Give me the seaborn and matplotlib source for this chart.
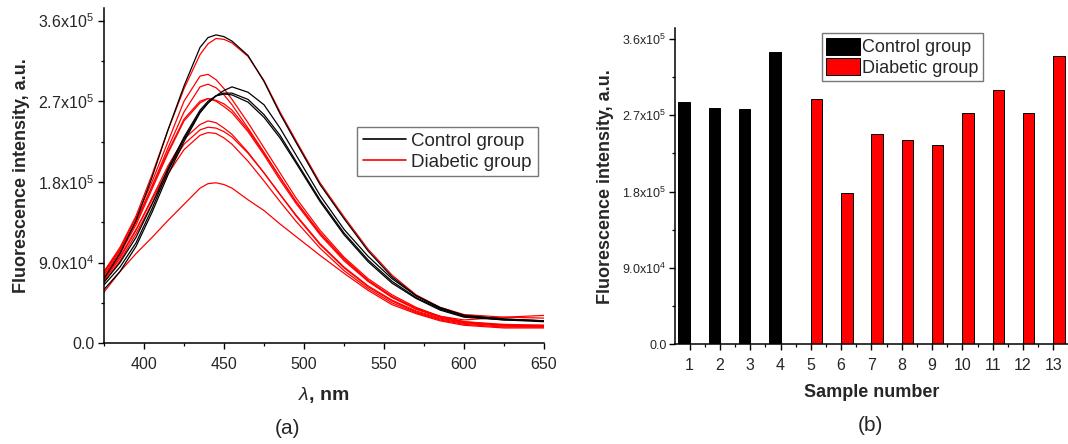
import pandas as pd
import matplotlib
matplotlib.use("Agg")
import matplotlib.pyplot as plt
from matplotlib.lines import Line2D
from matplotlib.ticker import FixedLocator, MultipleLocator
import seaborn as sns

sns.set_theme(style="ticks")
plt.rcParams['font.family'] = ['Liberation Sans', 'DejaVu Sans']
plt.rcParams['mathtext.fontset'] = 'custom'
plt.rcParams['mathtext.rm'] = 'Liberation Sans'
plt.rcParams['mathtext.it'] = 'Liberation Sans:italic'
plt.rcParams['mathtext.bf'] = 'Liberation Sans:bold'

# Data
wavelength = [375, 385, 395, 405, 415, 425, 435, 440, 445, 450, 455, 465, 475, 485,
              495, 510, 525, 540, 555, 570, 585, 600, 625, 650]

# control spectra (black)
control_1 = [65e3, 85e3, 112e3, 150e3, 192e3, 228e3, 258e3, 268e3, 276e3, 282e3, 286e3, 280e3,
             266e3, 240e3, 210e3, 165e3, 127e3, 97e3, 72e3, 53e3, 40e3, 31e3, 27e3, 25e3]
control_2 = [60e3, 80e3, 108e3, 146e3, 188e3, 225e3, 257e3, 268e3, 276e3, 279e3, 279e3, 272e3,
             255e3, 232e3, 203e3, 160e3, 123e3, 93e3, 69e3, 51e3, 38e3, 30e3, 26e3, 24e3]
control_3 = [68e3, 90e3, 118e3, 155e3, 195e3, 230e3, 260e3, 270e3, 276e3, 278e3, 277e3, 269e3,
             252e3, 229e3, 201e3, 158e3, 121e3, 91e3, 67e3, 50e3, 37e3, 29e3, 26e3, 25e3]
control_4 = [72e3, 100e3, 137e3, 185e3, 238e3, 287e3, 330e3, 341e3, 344e3, 342e3, 337e3, 321e3,
             292e3, 256e3, 224e3, 177e3, 139e3, 103e3, 74e3, 53e3, 39e3, 31e3, 27e3, 25e3]

# diabetic spectra (red)
diabetic_5 = [76e3, 102e3, 135e3, 175e3, 218e3, 258e3, 286e3, 289e3, 285e3, 277e3, 266e3, 240e3,
              213e3, 185e3, 158e3, 123e3, 94e3, 70e3, 52e3, 39e3, 30e3, 24e3, 21e3, 20e3]
diabetic_6 = [57e3, 80e3, 100e3, 118e3, 137e3, 155e3, 173e3, 178e3, 179e3, 177e3, 173e3, 160e3,
              148e3, 133e3, 119e3, 98e3, 78e3, 59e3, 43e3, 33e3, 25e3, 20e3, 17e3, 17e3]
diabetic_7 = [70e3, 95e3, 126e3, 162e3, 198e3, 228e3, 244e3, 248e3, 246e3, 240e3, 233e3, 213e3,
              190e3, 166e3, 142e3, 110e3, 84e3, 63e3, 47e3, 35e3, 27e3, 22e3, 19e3, 18e3]
diabetic_8 = [72e3, 97e3, 127e3, 160e3, 194e3, 222e3, 238e3, 241e3, 240e3, 236e3, 230e3, 212e3,
              190e3, 166e3, 143e3, 111e3, 85e3, 64e3, 48e3, 36e3, 28e3, 23e3, 20e3, 20e3]
diabetic_9 = [68e3, 92e3, 122e3, 156e3, 189e3, 216e3, 232e3, 235e3, 234e3, 229e3, 222e3, 203e3,
              181e3, 158e3, 136e3, 106e3, 81e3, 61e3, 45e3, 34e3, 26e3, 21e3, 18e3, 18e3]
diabetic_10 = [74e3, 100e3, 132e3, 172e3, 212e3, 248e3, 268e3, 273e3, 271e3, 267e3, 260e3, 238e3,
               212e3, 185e3, 158e3, 123e3, 94e3, 70e3, 52e3, 38e3, 29e3, 23e3, 20e3, 19e3]
diabetic_11 = [80e3, 105e3, 140e3, 180e3, 225e3, 270e3, 298e3, 300e3, 294e3, 284e3, 272e3, 246e3,
               218e3, 190e3, 162e3, 126e3, 96e3, 72e3, 54e3, 40e3, 30e3, 24e3, 20e3, 19e3]
diabetic_12 = [78e3, 104e3, 136e3, 175e3, 214e3, 250e3, 270e3, 273e3, 270e3, 264e3, 257e3, 236e3,
               210e3, 182e3, 156e3, 121e3, 92e3, 69e3, 51e3, 38e3, 30e3, 26e3, 29e3, 31e3]
diabetic_13 = [80e3, 107e3, 142e3, 188e3, 238e3, 284e3, 322e3, 334e3, 340e3, 339e3, 335e3, 320e3,
               293e3, 258e3, 226e3, 179e3, 141e3, 105e3, 76e3, 54e3, 40e3, 32e3, 29e3, 28e3]

control_spectra = [control_1, control_2, control_3, control_4]
diabetic_spectra = [diabetic_5, diabetic_6, diabetic_7, diabetic_8, diabetic_9,
                    diabetic_10, diabetic_11, diabetic_12, diabetic_13]

# panel (b): peak intensity per sample
sample_number = ['1', '2', '3', '4', '5', '6', '7', '8', '9', '10', '11', '12', '13']
sample_group = ['Control group'] * 4 + ['Diabetic group'] * 9
peak_intensity = [286e3, 279e3, 278e3, 345e3, 289e3, 179e3, 248e3, 241e3, 235e3,
                  273e3, 300e3, 273e3, 340e3]

y_ticks = [0, 9e4, 1.8e5, 2.7e5, 3.6e5]
y_ticklabels = ['0.0', '9.0x10$^4$', '1.8x10$^5$', '2.7x10$^5$', '3.6x10$^5$']

GROUPS = ['Control group', 'Diabetic group']
COLORS = {'Control group': 'black', 'Diabetic group': '#ff0000'}


def spectra_frame(spectra, group, start):
    rows = []
    for i, spec in enumerate(spectra):
        for wl, val in zip(wavelength, spec):
            rows.append({'wl': wl, 'I': val, 'sample': start + i, 'group': group})
    return pd.DataFrame(rows)


ctrl_df = spectra_frame(control_spectra, 'Control group', 1)
diab_df = spectra_frame(diabetic_spectra, 'Diabetic group', 5)
bar_df = pd.DataFrame({'Sample': sample_number, 'Intensity': peak_intensity, 'Group': sample_group})

fig = plt.figure(figsize=(10.68, 4.44), dpi=100)
ax1 = fig.add_axes([0.0974, 0.227, 0.412, 0.755])
ax2 = fig.add_axes([0.632, 0.2245, 0.368, 0.7125])


def style_axis(ax):
    for s in ['top', 'right']:
        ax.spines[s].set_visible(False)
    for s in ['left', 'bottom']:
        ax.spines[s].set_linewidth(1.1)
        ax.spines[s].set_color('black')
    ax.tick_params(which='major', direction='out', length=4, width=1.0, color='black')
    ax.tick_params(which='minor', direction='out', length=2.5, width=0.9, color='black')


# %% panel (a)
sns.lineplot(data=diab_df, x='wl', y='I', units='sample', estimator=None,
             color=COLORS['Diabetic group'], lw=0.9, ax=ax1)
sns.lineplot(data=ctrl_df, x='wl', y='I', units='sample', estimator=None,
             color=COLORS['Control group'], lw=0.9, ax=ax1)
ax1.set_xlim(375, 650)
ax1.set_ylim(0, 3.74e5)
ax1.xaxis.set_major_locator(FixedLocator([400, 450, 500, 550, 600, 650]))
ax1.xaxis.set_minor_locator(MultipleLocator(25))
ax1.yaxis.set_major_locator(FixedLocator(y_ticks))
ax1.set_yticklabels(y_ticklabels)
ax1.yaxis.set_minor_locator(MultipleLocator(4.5e4))
style_axis(ax1)
ax1.tick_params(axis='y', labelsize=11.5, pad=3)
ax1.tick_params(axis='x', labelsize=11.5, pad=6)
ax1.set_xlabel(r'$\lambda$, nm', fontsize=14, fontweight='bold', labelpad=9)
ax1.set_ylabel('Fluorescence intensity, a.u.', fontsize=13, fontweight='bold', labelpad=6)
handles = [Line2D([], [], color=COLORS[g], lw=1.2) for g in GROUPS]
leg1 = ax1.legend(handles, GROUPS, loc='upper left', bbox_to_anchor=(0.575, 0.645),
                  fontsize=13.5, frameon=True, fancybox=False, edgecolor='#555555',
                  handlelength=2.3, handletextpad=0.3, labelspacing=0.2, borderpad=0.3,
                  borderaxespad=0)
leg1.get_frame().set_linewidth(1.0)

# %% panel (b)
sns.barplot(data=bar_df, x='Sample', y='Intensity', hue='Group', hue_order=GROUPS,
            order=sample_number, palette=COLORS, saturation=1, width=0.75,
            edgecolor='black', linewidth=0.7, dodge=True, ax=ax2)
ax2.set_xlim(-0.485, 12.485)
ax2.set_ylim(0, 3.73e5)
ax2.yaxis.set_major_locator(FixedLocator(y_ticks))
ax2.set_yticklabels(y_ticklabels)
ax2.yaxis.set_minor_locator(MultipleLocator(4.5e4))
ax2.xaxis.set_minor_locator(FixedLocator([i + 0.5 for i in range(-1, 13)]))
style_axis(ax2)
ax2.tick_params(axis='y', labelsize=9, pad=2)
ax2.tick_params(axis='x', labelsize=11.5, pad=6)
ax2.set_xlabel('Sample number', fontsize=13, fontweight='bold', labelpad=8)
ax2.set_ylabel('Fluorescence intensity, a.u.', fontsize=13, fontweight='bold', labelpad=6)
h, l = ax2.get_legend_handles_labels()
leg2 = ax2.legend(h, l, loc='upper left', bbox_to_anchor=(0.373, 0.984), fontsize=13,
                  frameon=True, fancybox=False, edgecolor='#555555', handlelength=1.9,
                  handleheight=1.1, handletextpad=0.1, labelspacing=0.1, borderpad=0.25,
                  borderaxespad=0)
leg2.get_frame().set_linewidth(1.0)

fig.text(0.269, 0.035, '(a)', fontsize=15, ha='center', va='center')
fig.text(0.815, 0.042, '(b)', fontsize=15, ha='center', va='center')

fig.savefig('out.png', dpi=100)
